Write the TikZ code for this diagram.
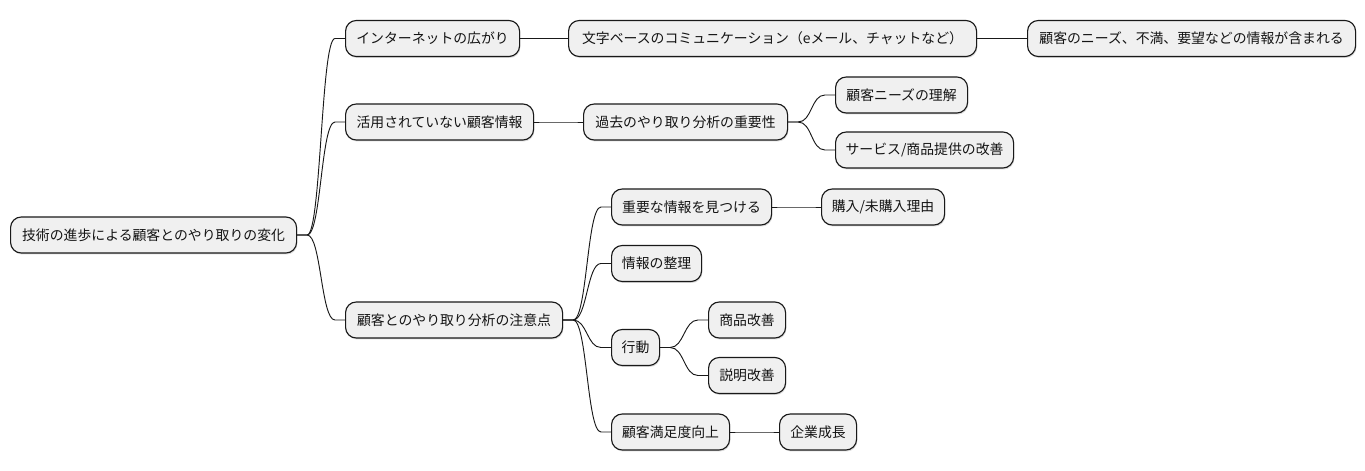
\documentclass[tikz,border=0pt]{standalone}
\usepackage{fontspec}
\setmainfont{Noto Sans CJK JP}
\usetikzlibrary{calc,shadows}
\tikzset{
  mm/.style={draw=black!90, line width=0.85pt, fill=black!6, rounded corners=8pt,
    minimum height=27pt, inner xsep=0pt, inner ysep=0pt, anchor=west,
    font=\fontsize{10.4pt}{12pt}\selectfont, text=black!92,
    drop shadow={shadow xshift=0.6pt, shadow yshift=-1.1pt, fill=black, opacity=0.14}},
  conn/.style={draw=black!90, line width=0.7pt}
}
\newcommand\linkto[2]{\draw[conn] (#1.east) -- ++(10,0) .. controls +(14,0) and +(-14,0) .. ($(#2.west)+(-10,0)$) -- (#2.west);}
\begin{document}
\begin{tikzpicture}[x=0.75pt,y=-0.75pt]
\useasboundingbox (0,0) rectangle (1365,471);
% root
\node[mm, minimum width=214.5pt] (root) at (10,235) {技術の進歩による顧客とのやり取りの変化};
% branch a
\node[mm, minimum width=130.5pt] (a1) at (345,38.5) {インターネットの広がり};
\node[mm, minimum width=306pt] (a2) at (568,38.5) {文字ベースのコミュニケーション（eメール、チャットなど）};
\node[mm, minimum width=246pt] (a3) at (1027,38.5) {顧客のニーズ、不満、要望などの情報が含まれる};
% branch b
\node[mm, minimum width=141pt] (b1) at (345,122) {活用されていない顧客情報};
\node[mm, minimum width=153pt] (b2) at (583,122) {過去のやり取り分析の重要性};
\node[mm, minimum width=99pt] (b3) at (835,95) {顧客ニーズの理解};
\node[mm, minimum width=133.5pt] (b4) at (835,150) {サービス/商品提供の改善};
% branch c
\node[mm, minimum width=162.75pt] (c1) at (345,320) {顧客とのやり取り分析の注意点};
\node[mm, minimum width=120pt] (c2) at (611,207) {重要な情報を見つける};
\node[mm, minimum width=92.25pt] (c3) at (821,207) {購入/未購入理由};
\node[mm, minimum width=67.5pt] (c4) at (611,263.5) {情報の整理};
\node[mm, minimum width=36pt] (c5) at (611,347.5) {行動};
\node[mm, minimum width=57.75pt] (c6) at (708,320) {商品改善};
\node[mm, minimum width=57.75pt] (c7) at (708,375.5) {説明改善};
\node[mm, minimum width=88.5pt] (c8) at (611,432) {顧客満足度向上};
\node[mm, minimum width=57.75pt] (c9) at (779,432) {企業成長};
% connectors
\linkto{root}{a1}
\linkto{root}{b1}
\linkto{root}{c1}
\linkto{a1}{a2}
\linkto{a2}{a3}
\linkto{b1}{b2}
\linkto{b2}{b3}
\linkto{b2}{b4}
\linkto{c1}{c2}
\linkto{c1}{c4}
\linkto{c1}{c5}
\linkto{c1}{c8}
\linkto{c2}{c3}
\linkto{c5}{c6}
\linkto{c5}{c7}
\linkto{c8}{c9}
\end{tikzpicture}
\end{document}
